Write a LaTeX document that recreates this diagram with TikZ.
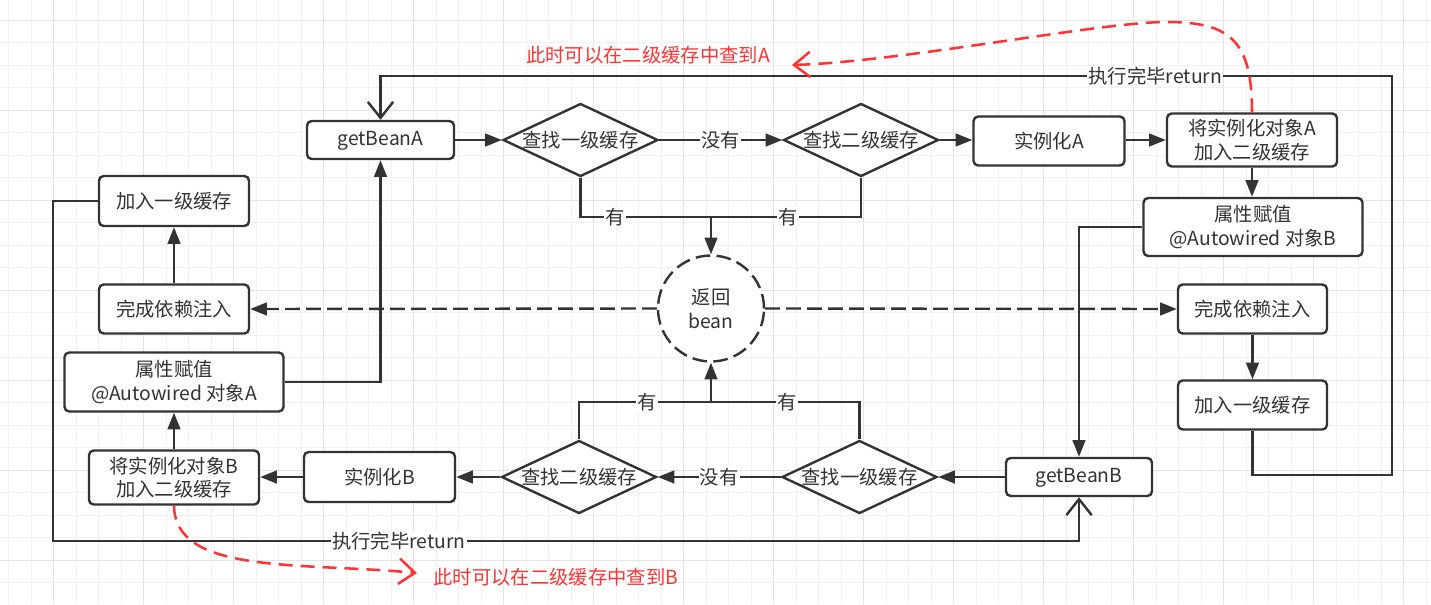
\documentclass[tikz,border=0pt]{standalone}
\usepackage{fontspec}
\setmainfont{Noto Sans CJK SC}
\usetikzlibrary{arrows.meta,shapes.geometric}
\definecolor{ln}{HTML}{333333}
\definecolor{rd}{HTML}{FF3333}
\definecolor{gmin}{HTML}{F1F1F1}
\definecolor{gmaj}{HTML}{E4E4E4}
\newcommand\myfs{\fontsize{14.5pt}{17.5pt}\selectfont}
\tikzset{
  conn/.style={draw=ln, line width=1.8pt},
  arr/.style={-{Triangle[length=12.5pt,width=9.5pt]}},
  oarr/.style={-{Straight Barb[length=12pt,width=19pt]}},
  dsh/.style={dash pattern=on 11pt off 4.75pt},
  box/.style={rectangle, draw=ln, fill=white, line width=1.8pt, rounded corners=3.5pt,
              text=ln, align=center, inner sep=0pt, font=\myfs},
  latin/.style={text height=0.9em, text depth=0.1em},
  dia/.style={diamond, draw=ln, fill=white, line width=1.8pt, inner sep=0pt,
              minimum width=116.25pt, minimum height=54.75pt},
  dtext/.style={font=\myfs, text=ln},
  lbl/.style={fill=white, text=ln, inner sep=1pt, font=\myfs},
  redc/.style={draw=rd, line width=1.9pt, dash pattern=on 10.5pt off 6pt},
  rtext/.style={text=rd, font=\myfs, inner sep=0pt},
}
\begin{document}
\begin{tikzpicture}[x=0.75pt,y=-0.75pt]
\useasboundingbox (0,0) rectangle (1431,604);
\fill[white] (0,0) rectangle (1431,604);
% grid
\foreach \k in {0,...,63} {\draw[gmin, line width=0.75pt] (8.5+22.5*\k,0) -- (8.5+22.5*\k,604);}
\foreach \k in {0,...,25} {\draw[gmin, line width=0.75pt] (0,20+22.5*\k) -- (1431,20+22.5*\k);}
\foreach \k in {0,...,15} {\draw[gmaj, line width=0.75pt] (53+90*\k,0) -- (53+90*\k,604);}
\foreach \k in {0,...,6} {\draw[gmaj, line width=0.75pt] (0,20+90*\k) -- (1431,20+90*\k);}

% top row
\node[box, latin, minimum width=110.25pt, minimum height=28.5pt] (gA) at (380.5,140) {getBeanA};
\node[dia, label={[dtext]center:查找一级缓存}] (D1) at (580.5,140) {};
\node[dia, label={[dtext]center:查找二级缓存}] (D2) at (861,140) {};
\node[box, minimum width=113.25pt, minimum height=36.75pt] (instA) at (1049,141) {实例化A};
\node[box, minimum width=127.5pt, minimum height=39.75pt] (putA) at (1252,140) {将实例化对象A\\加入二级缓存};
\node[box, minimum width=164.25pt, minimum height=43.5pt] (propB) at (1253,227) {属性赋值\\@Autowired 对象B};
\node[box, minimum width=111.75pt, minimum height=36.75pt] (doneR) at (1252.5,309) {完成依赖注入};
\node[box, minimum width=111.75pt, minimum height=36.75pt] (l1R) at (1252.5,405) {加入一级缓存};

% bottom row
\node[box, latin, minimum width=109.5pt, minimum height=28.5pt] (gB) at (1079,477) {getBeanB};
\node[dia, label={[dtext]center:查找一级缓存}] (D3) at (859.5,477) {};
\node[dia, label={[dtext]center:查找二级缓存}] (D4) at (579,477) {};
\node[box, minimum width=113.25pt, minimum height=37.5pt] (instB) at (379.5,477) {实例化B};
\node[box, minimum width=127.5pt, minimum height=40.5pt] (putB) at (174,477.5) {将实例化对象B\\加入二级缓存};
\node[box, minimum width=164.25pt, minimum height=44.25pt] (propA) at (174,382) {属性赋值\\@Autowired 对象A};
\node[box, minimum width=112.5pt, minimum height=36.75pt] (doneL) at (174,309) {完成依赖注入};
\node[box, minimum width=112.5pt, minimum height=37.5pt] (l1L) at (174,201) {加入一级缓存};

% centre circle
\node[circle, draw=ln, fill=white, line width=1.8pt, dsh, minimum size=79.5pt, inner sep=0pt,
      text=ln, align=center, font=\myfs] (circ) at (711,308.5) {返回\\bean};

% helper coordinates
\coordinate (jt) at (711,217);
\coordinate (jb) at (711,402);
\coordinate (rb) at (1392,475);
\coordinate (rt) at (1392,76);
\coordinate (tl) at (380.5,76);
\coordinate (lb0) at (53,201);
\coordinate (lb1) at (53,541);
\coordinate (lb2) at (1079,541);
\coordinate (tipA) at (792,65);
\coordinate (tipB) at (417,573);

% top flow
\draw[conn, arr] (gA.east) -- (D1.west);
\draw[conn, arr] (D1.east) -- node[lbl]{没有} (D2.west);
\draw[conn, arr] (D2.east) -- (D2.east -| instA.west);
\draw[conn, arr] (instA.east |- putA.west) -- (putA.west);
\draw[conn, arr] (putA.south) -- (putA.south |- propB.north);
\draw[conn, arr] (propB.west) -| (gB.north);
\draw[conn, arr] (doneR.south) -- (l1R.north);
\draw[conn, oarr] (l1R.south) |- (rb) -- (rt) -- node[lbl, pos=0.234]{执行完毕return} (tl) -- (gA.north);

% bottom flow
\draw[conn, arr] (gB.west) -- (D3.east);
\draw[conn, arr] (D3.west) -- node[lbl]{没有} (D4.east);
\draw[conn, arr] (D4.west) -- (instB.east);
\draw[conn, arr] (instB.west) -- (instB.west -| putB.east);
\draw[conn, arr] (putB.north) -- (propA.south);
\draw[conn, arr] (propA.east) -| (gA.south);
\draw[conn, arr] (doneL.north) -- (l1L.south);
\draw[conn, oarr] (l1L.west) -- (lb0) -- (lb1) -- node[lbl, pos=0.337]{执行完毕return} (lb2) -- (gB.south);

% to the circle
\draw[conn] (D1.south) |- node[lbl, pos=0.632]{有} (jt);
\draw[conn] (D2.south) |- node[lbl, pos=0.743]{有} (jt);
\draw[conn, arr] (jt) -- (circ.north);
\draw[conn] (D4.north) |- node[lbl, pos=0.757]{有} (jb);
\draw[conn] (D3.north) |- node[lbl, pos=0.744]{有} (jb);
\draw[conn, arr] (jb) -- (circ.south);

% dashed from circle
\draw[conn, dsh, arr] (circ.west) -- (doneL.east);
\draw[conn, dsh, arr] (circ.east) -- (doneR.west);

% red notes
\draw[redc, -{Straight Barb[length=12pt,width=19pt]}] (putA.north) .. controls (1252,40) and (1230,22) .. (1166,22)
   .. controls (1100,22) and (900,62) .. (tipA);
\node[rtext] (noteA) at (648,55) {此时可以在二级缓存中查到A};
\draw[redc, -{Straight Barb[length=12pt,width=19pt]}] (putB.south) .. controls (175,575) and (300,562) .. (tipB);
\node[rtext] (noteB) at (556,577) {此时可以在二级缓存中查到B};
\end{tikzpicture}
\end{document}
